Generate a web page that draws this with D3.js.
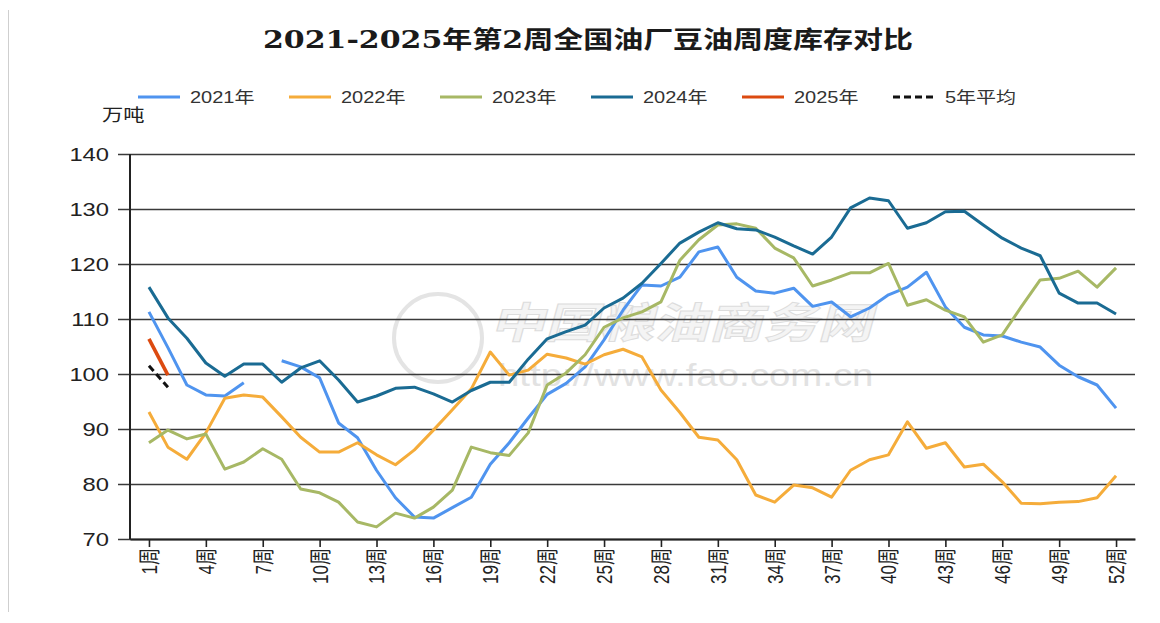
<!DOCTYPE html>
<html>
<head>
<meta charset="utf-8">
<script src="https://cdn.jsdelivr.net/npm/d3@7/dist/d3.min.js"></script>
<style>
  body { margin: 0; background: #fff; }
  svg { display: block; }
</style>
</head>
<body>
<div id="chart"></div>
<script>
// weekly soybean oil stocks (万吨), week 1..52
const weeks = d3.range(1, 53);
const seriesNames = ['2021年', '2022年', '2023年', '2024年', '2025年', '5年平均'];
const seriesColors = ['#4f94ef', '#f5ac3a', '#a7b865', '#1a6b93', '#dc4a10', '#111111'];

const v2021 = [111.3, 104.8, 98.0, 96.2, 96.0, 98.4, null, 102.4, 101.3, 99.3,
  91.1, 88.4, 82.5, 77.5, 74.0, 73.8, 75.7, 77.6, 83.6, 87.5,
  92.0, 96.3, 98.3, 101.3, 106.2, 111.6, 116.2, 116.0, 117.6, 122.2,
  123.1, 117.6, 115.1, 114.7, 115.6, 112.3, 113.1, 110.4, 112.0, 114.4,
  115.8, 118.5, 112.2, 108.5, 107.1, 106.9, 105.8, 104.9, 101.6, 99.5,
  98.0, 93.8];
const v2022 = [93.1, 86.7, 84.5, 89.3, 95.6, 96.2, 95.8, 92.2, 88.5, 85.8,
  85.8, 87.5, 85.3, 83.5, 86.2, 89.8, 93.5, 97.3, 104.0, 99.8,
  100.7, 103.6, 102.9, 101.8, 103.5, 104.5, 103.1, 97.1, 93.0, 88.5,
  88.0, 84.4, 78.0, 76.7, 79.8, 79.3, 77.6, 82.5, 84.4, 85.3,
  91.3, 86.5, 87.5, 83.1, 83.6, 80.4, 76.5, 76.4, 76.7, 76.8,
  77.5, 81.5];
const v2023 = [87.5, 89.8, 88.2, 89.1, 82.7, 84.0, 86.4, 84.5, 79.1, 78.4,
  76.7, 73.1, 72.2, 74.7, 73.8, 75.8, 78.9, 86.7, 85.7, 85.2,
  89.3, 98.0, 100.2, 103.5, 108.5, 110.2, 111.3, 113.1, 120.7, 124.4,
  127.1, 127.3, 126.5, 122.9, 121.1, 116.0, 117.1, 118.4, 118.4, 120.1,
  112.5, 113.5, 111.6, 110.4, 105.8, 107.1, 112.2, 117.1, 117.4, 118.7,
  115.8, 119.3];
const v2024 = [115.8, 110.2, 106.5, 102.0, 99.6, 101.8, 101.8, 98.5, 101.1, 102.4,
  98.9, 94.9, 96.0, 97.4, 97.6, 96.4, 94.9, 97.0, 98.5, 98.5,
  102.7, 106.4, 107.7, 108.9, 112.0, 113.8, 116.5, 120.1, 123.8, 125.8,
  127.5, 126.4, 126.2, 124.9, 123.3, 121.8, 124.9, 130.2, 132.0, 131.5,
  126.5, 127.5, 129.5, 129.6, 127.1, 124.7, 122.9, 121.5, 114.7, 112.9,
  112.9, 110.9];
const v2025 = [106.4, 99.8];
const vAvg = [101.5, 97.6];

const yTicks = [70, 80, 90, 100, 110, 120, 130, 140];
const xTickWeeks = d3.range(1, 53, 3);

const title = '2021-2025年第2周全国油厂豆油周度库存对比';
const unitLabel = '万吨';

const width = 1160, height = 623;
const margin = { top: 154, right: 25, bottom: 84, left: 130 };
const SX = 1.25; // source image is stretched horizontally

const svg = d3.select('#chart').append('svg')
  .attr('width', width)
  .attr('height', height);

// frame line on the left
svg.append('line')
  .attr('x1', 8.5).attr('x2', 8.5).attr('y1', 10).attr('y2', 612)
  .attr('stroke', '#cfcfcf').attr('stroke-width', 1);

const x = d3.scalePoint()
  .domain(weeks)
  .range([margin.left, width - margin.right])
  .padding(1);

const y = d3.scaleLinear()
  .domain([70, 140])
  .range([height - margin.bottom, margin.top]);

// title
svg.append('text')
  .attr('transform', `translate(588,48) scale(${SX},1)`)
  .attr('text-anchor', 'middle')
  .attr('font-family', '"DejaVu Serif", "Noto Sans CJK SC", serif')
  .attr('font-weight', 'bold')
  .attr('font-size', 24)
  .attr('fill', '#1a1a1a')
  .text(title);

// watermark (faint outline logo + text)
const wm = svg.append('g');
wm.append('circle')
  .attr('cx', 438).attr('cy', 338).attr('r', 44)
  .attr('fill', 'none').attr('stroke', '#e4e4e4').attr('stroke-width', 4);
wm.append('text')
  .attr('transform', `translate(490,338) scale(1.3,1) skewX(-12)`)
  .attr('font-family', '"Noto Sans CJK SC", sans-serif')
  .attr('font-size', 42).attr('font-weight', 'bold')
  .attr('fill', '#f4f4f4')
  .attr('stroke', '#dddddd').attr('stroke-width', 1)
  .text('中国粮油商务网');
wm.append('text')
  .attr('transform', `translate(498,386) scale(1.2,1)`)
  .attr('font-family', '"Liberation Sans", sans-serif')
  .attr('font-size', 32)
  .attr('fill', '#e2e2e2')
  .text('http://www.fao.com.cn');

// gridlines + y axis
const yAxis = d3.axisLeft(y)
  .tickValues(yTicks)
  .tickSize(-(width - margin.right - margin.left))
  .tickPadding(0);

const gy = svg.append('g')
  .attr('transform', `translate(${margin.left},0)`)
  .call(yAxis);
gy.select('.domain').remove();
gy.selectAll('.tick line')
  .attr('x1', -12)
  .attr('stroke', '#3a3a3a')
  .attr('stroke-width', 1.6);
gy.selectAll('.tick text')
  .attr('transform', `scale(${SX},1)`)
  .attr('x', -21 / SX)
  .attr('font-family', '"Liberation Sans", Arial, sans-serif')
  .attr('font-size', 19)
  .attr('fill', '#222');

// y axis line
svg.append('line')
  .attr('x1', margin.left).attr('x2', margin.left)
  .attr('y1', margin.top).attr('y2', height - margin.bottom)
  .attr('stroke', '#222').attr('stroke-width', 2);

// x axis
const xAxis = d3.axisBottom(x)
  .tickValues(xTickWeeks)
  .tickSize(8)
  .tickSizeOuter(0)
  .tickFormat(d => d + '周');

const gx = svg.append('g')
  .attr('transform', `translate(0,${height - margin.bottom})`)
  .call(xAxis);
gx.select('.domain')
  .attr('stroke', '#222').attr('stroke-width', 2);
gx.selectAll('.tick line')
  .attr('stroke', '#222').attr('stroke-width', 1.6);
gx.selectAll('.tick text')
  .attr('transform', `scale(${SX},1) rotate(-90)`)
  .attr('x', -9)
  .attr('y', 0)
  .attr('dy', '0.35em')
  .attr('text-anchor', 'end')
  .attr('font-family', '"Liberation Sans", "Noto Sans CJK SC", sans-serif')
  .attr('font-size', 17)
  .attr('fill', '#222');

// unit label
svg.append('text')
  .attr('transform', `translate(102,121) scale(${SX},1)`)
  .attr('font-family', '"Noto Sans CJK SC", sans-serif')
  .attr('font-size', 17)
  .attr('fill', '#222')
  .text(unitLabel);

// lines
const line = d3.line()
  .defined(d => d.v != null)
  .x(d => x(d.w))
  .y(d => y(d.v));

const seriesValues = [v2021, v2022, v2023, v2024, v2025, vAvg];
const series = seriesNames.map((name, i) => ({
  name,
  color: seriesColors[i],
  dashed: name === '5年平均',
  points: seriesValues[i].map((v, j) => ({ w: weeks[j], v }))
}));

svg.append('g')
  .selectAll('path')
  .data(series)
  .join('path')
  .attr('d', d => line(d.points))
  .attr('fill', 'none')
  .attr('stroke', d => d.color)
  .attr('stroke-width', d => d.name === '2025年' ? 3.6 : 3)
  .attr('stroke-dasharray', d => d.dashed ? '7,4' : null)
  .attr('stroke-linejoin', 'round');

// legend
const legend = svg.append('g')
  .selectAll('g')
  .data(series)
  .join('g')
  .attr('transform', (d, i) => `translate(${138 + i * 151},97)`);

legend.append('line')
  .attr('x1', 0).attr('x2', 42)
  .attr('stroke', d => d.color)
  .attr('stroke-width', 3)
  .attr('stroke-dasharray', d => d.dashed ? '7,4' : null);

legend.append('text')
  .attr('transform', `translate(52,0) scale(${SX},1)`)
  .attr('dy', '0.36em')
  .attr('font-family', '"Liberation Sans", "Noto Sans CJK SC", sans-serif')
  .attr('font-size', 16)
  .attr('fill', '#333')
  .text(d => d.name);
</script>
</body>
</html>
